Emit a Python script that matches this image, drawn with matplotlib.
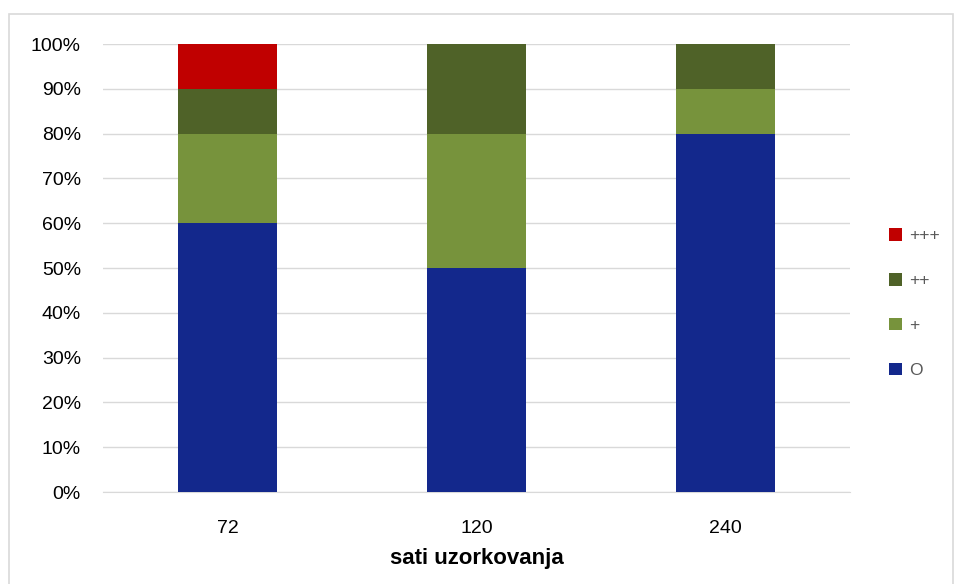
import numpy as np
import matplotlib.pyplot as plt
from matplotlib.patches import Rectangle

plt.rcParams['font.family'] = ['Liberation Sans', 'DejaVu Sans']

hours = ['72', '120', '240']
o_vals = [60, 50, 80]
plus_vals = [20, 30, 10]
plus2_vals = [10, 20, 10]
plus3_vals = [10, 0, 0]

series = [('O', o_vals, '#13288C'),
          ('+', plus_vals, '#77933C'),
          ('++', plus2_vals, '#4F6228'),
          ('+++', plus3_vals, '#C00000')]

fig = plt.figure(figsize=(9.55, 5.84), dpi=100)
ax = fig.add_axes([0.108, 0.1575, 0.782, 0.767])

x = np.arange(len(hours))
bottom = np.zeros(len(hours))
handles = []
for name, vals, col in series:
    b = ax.bar(x, vals, 0.4, bottom=bottom, color=col, label=name, zorder=3)
    handles.append(b)
    bottom += np.array(vals)

ax.set_xlim(-0.5, 2.5)
ax.set_ylim(0, 100)
ax.set_yticks(range(0, 101, 10))
ax.set_yticklabels([f'{v}%' for v in range(0, 101, 10)])
ax.set_xticks(x)
ax.set_xticklabels(hours)
ax.yaxis.grid(True, color='#D9D9D9', lw=1, zorder=0)
for s in ['top', 'right', 'left']:
    ax.spines[s].set_visible(False)
ax.spines['bottom'].set_color('#D9D9D9')
ax.tick_params(length=0, labelsize=14, colors='black')
ax.tick_params(axis='x', pad=20)
ax.tick_params(axis='y', pad=16)
ax.set_xlabel('sati uzorkovanja', fontsize=16, fontweight='bold', labelpad=8)

leg = ax.legend(handles[::-1], [h.get_label() for h in handles[::-1]],
                loc='center left', bbox_to_anchor=(1.032, 0.422), frameon=False,
                fontsize=12.5, labelspacing=1.7, handlelength=0.75, handleheight=0.75,
                handletextpad=0.4, labelcolor='#595959')

fig.patches.append(Rectangle((9 / 955, -0.01), 944 / 955, 1 - 14 / 584 + 0.01,
                             transform=fig.transFigure, fill=False,
                             edgecolor='#D9D9D9', lw=1.2))

fig.savefig('out.png', dpi=100)
